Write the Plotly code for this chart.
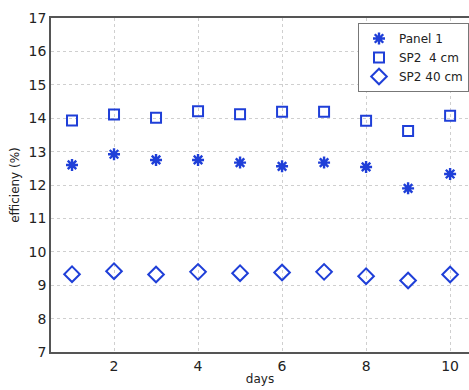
import plotly.graph_objects as go

days = [1, 2, 3, 4, 5, 6, 7, 8, 9, 10]
panel1 = [12.60, 12.92, 12.75, 12.75, 12.67, 12.56, 12.67, 12.54, 11.90, 12.33]
sp2_4cm = [13.93, 14.11, 14.01, 14.21, 14.12, 14.19, 14.19, 13.92, 13.62, 14.07]
sp2_40cm = [9.33, 9.42, 9.32, 9.40, 9.36, 9.38, 9.40, 9.27, 9.14, 9.32]

x_ticks = [2, 4, 6, 8, 10]
y_ticks = [7, 8, 9, 10, 11, 12, 13, 14, 15, 16, 17]

blue = "#1f3fd8"

fig = go.Figure()
fig.add_trace(go.Scatter(x=days, y=panel1, mode="markers", name="Panel 1",
                         marker=dict(symbol="asterisk-open", size=10, color=blue,
                                     line=dict(color=blue, width=2.4))))
fig.add_trace(go.Scatter(x=days, y=sp2_4cm, mode="markers", name="SP2  4 cm",
                         marker=dict(symbol="square-open", size=10, color=blue,
                                     line=dict(color=blue, width=2))))
fig.add_trace(go.Scatter(x=days, y=sp2_40cm, mode="markers", name="SP2 40 cm",
                         marker=dict(symbol="diamond-open", size=12, color=blue,
                                     line=dict(color=blue, width=2))))

grid = dict(showgrid=True, gridcolor="#cfcfcf", griddash="dot", gridwidth=1)

fig.update_layout(
    width=469, height=390,
    margin=dict(l=51, r=0, t=18, b=38),
    paper_bgcolor="white", plot_bgcolor="white",
    font=dict(family="DejaVu Sans", size=12, color="#222222"),
    showlegend=True,
    legend=dict(x=1, xanchor="right", y=0.985, yanchor="top",
                bordercolor="#777777", borderwidth=1, bgcolor="white",
                font=dict(size=12), tracegroupgap=0, itemwidth=30),
    xaxis=dict(range=[0.5, 10.45], tickvals=x_ticks, ticks="", showline=True,
               linecolor="#555555", linewidth=1.8, mirror=True, zeroline=False,
               title=dict(text="days", standoff=2, font=dict(size=12)),
               tickfont=dict(size=14), **grid),
    yaxis=dict(range=[7, 17], tickvals=y_ticks, ticks="", showline=True,
               linecolor="#555555", linewidth=1.8, zeroline=False,
               title=dict(text="efficieny (%)", standoff=6, font=dict(size=12)),
               tickfont=dict(size=14), **grid),
)

fig.write_html("out.html", config={"displayModeBar": False},
               post_script="document.body.style.margin='0';document.body.style.overflow='hidden';")
